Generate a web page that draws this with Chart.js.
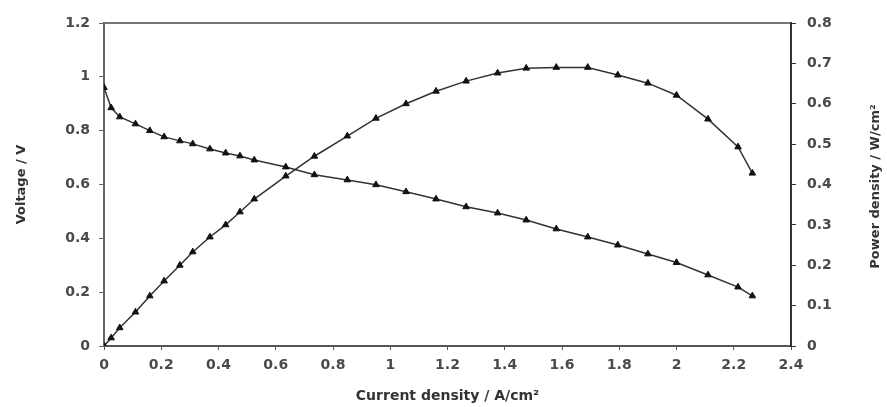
<!DOCTYPE html>
<html>
<head>
<meta charset="utf-8">
<script src="https://cdn.jsdelivr.net/npm/chart.js@4/dist/chart.umd.min.js"></script>
<style>
  html, body { margin: 0; padding: 0; background: #ffffff; }
  #wrap { width: 887px; height: 407px; }
</style>
</head>
<body>
<div id="wrap"><canvas id="c" width="887" height="407"></canvas></div>
<script>
// Polarization data: current density (A/cm²), cell voltage (V), power density (W/cm²)
const currentDensity = [0, 0.025, 0.055, 0.11, 0.16, 0.21, 0.265, 0.31, 0.37, 0.425, 0.475, 0.525,
  0.635, 0.735, 0.85, 0.95, 1.055, 1.16, 1.265, 1.375, 1.475, 1.58, 1.69, 1.795, 1.9, 2.0,
  2.11, 2.215, 2.265];
const voltage = [0.96, 0.885, 0.851, 0.825, 0.80, 0.777, 0.762, 0.751, 0.732, 0.717, 0.706, 0.691,
  0.665, 0.636, 0.617, 0.599, 0.573, 0.546, 0.517, 0.494, 0.468, 0.435, 0.405, 0.375, 0.342, 0.31,
  0.264, 0.219, 0.186];
const powerDensity = [0, 0.02, 0.045, 0.084, 0.124, 0.161, 0.2, 0.233, 0.27, 0.3, 0.332, 0.364,
  0.421, 0.47, 0.52, 0.564, 0.6, 0.631, 0.656, 0.676, 0.688, 0.69, 0.69, 0.671, 0.651, 0.621,
  0.562, 0.493, 0.428];

const xTicks = [0, 0.2, 0.4, 0.6, 0.8, 1, 1.2, 1.4, 1.6, 1.8, 2, 2.2, 2.4];
const voltageTicks = [0, 0.2, 0.4, 0.6, 0.8, 1, 1.2];
const powerTicks = [0, 0.1, 0.2, 0.3, 0.4, 0.5, 0.6, 0.7, 0.8];

const xTitle = 'Current density / A/cm²';
const voltageTitle = 'Voltage / V';
const powerTitle = 'Power density / W/cm²';

const pts = (ys) => currentDensity.map((x, i) => ({ x: x, y: ys[i] }));
const fmt = (v) => String(+Number(v).toFixed(1));

const tickFont = { family: 'DejaVu Sans', size: 14, weight: 'bold' };
const titleFont = { family: 'DejaVu Sans', size: 13, weight: 'bold' };
const tickColor = '#4a4a4a';

const seriesStyle = {
  borderColor: '#333333',
  borderWidth: 1.5,
  backgroundColor: '#111111',
  pointStyle: 'triangle',
  pointRadius: 3.8,
  pointBorderColor: '#111111',
  pointBackgroundColor: '#111111',
  pointBorderWidth: 1,
  tension: 0,
  fill: false
};

// Right-hand axis title, drawn reading bottom-to-top
const rightTitlePlugin = {
  id: 'rightTitle',
  afterDraw(chart) {
    const ctx = chart.ctx;
    const s = chart.scales.y1;
    const area = chart.chartArea;
    ctx.save();
    ctx.translate(s.right - 11, (area.top + area.bottom) / 2 + 2);
    ctx.rotate(-Math.PI / 2);
    ctx.font = 'bold 13px "DejaVu Sans"';
    ctx.fillStyle = '#333333';
    ctx.textAlign = 'center';
    ctx.textBaseline = 'middle';
    ctx.fillText(powerTitle, 0, 0);
    ctx.restore();
  }
};

new Chart(document.getElementById('c'), {
  type: 'line',
  data: {
    datasets: [
      Object.assign({ label: 'Voltage', data: pts(voltage), yAxisID: 'y' }, seriesStyle),
      Object.assign({ label: 'Power density', data: pts(powerDensity), yAxisID: 'y1' }, seriesStyle)
    ]
  },
  plugins: [rightTitlePlugin],
  options: {
    responsive: false,
    animation: false,
    devicePixelRatio: 1,
    layout: { padding: 0 },
    plugins: { legend: { display: false }, tooltip: { enabled: false } },
    scales: {
      x: {
        type: 'linear',
        position: 'bottom',
        min: 0, max: 2.4,
        afterBuildTicks: (s) => { s.ticks = xTicks.map(v => ({ value: v })); },
        afterFit: (s) => { s.height = 61; },
        ticks: { font: tickFont, color: tickColor, padding: 7, maxRotation: 0, callback: fmt },
        grid: { display: true, drawOnChartArea: false, drawTicks: true, tickLength: 4, color: '#555555' },
        border: { display: true, color: '#555555', width: 2 },
        title: { display: true, text: xTitle, font: { family: 'DejaVu Sans', size: 14, weight: 'bold' },
                 color: '#333333', padding: { top: 0, bottom: 2 } }
      },
      xTop: {
        type: 'linear',
        position: 'top',
        min: 0, max: 2.4,
        afterFit: (s) => { s.height = 23; },
        ticks: { display: false },
        grid: { display: false },
        border: { display: true, color: '#777777', width: 2 }
      },
      y: {
        type: 'linear',
        position: 'left',
        min: 0, max: 1.2,
        afterBuildTicks: (s) => { s.ticks = voltageTicks.map(v => ({ value: v })); },
        afterFit: (s) => { s.width = 104; },
        ticks: { font: tickFont, color: tickColor, padding: 9, callback: fmt },
        grid: { display: true, drawOnChartArea: false, drawTicks: true, tickLength: 5, color: '#666666' },
        border: { display: true, color: '#666666', width: 2 },
        title: { display: true, text: voltageTitle, font: titleFont, color: '#333333', padding: { top: 14, bottom: 0 } }
      },
      y1: {
        type: 'linear',
        position: 'right',
        min: 0, max: 0.8,
        afterBuildTicks: (s) => { s.ticks = powerTicks.map(v => ({ value: v })); },
        afterFit: (s) => { s.width = 96; },
        ticks: { font: tickFont, color: tickColor, padding: 11, callback: fmt },
        grid: { display: true, drawOnChartArea: false, drawTicks: true, tickLength: 5, color: '#333333' },
        border: { display: true, color: '#333333', width: 2 }
      }
    }
  }
});
</script>
</body>
</html>
